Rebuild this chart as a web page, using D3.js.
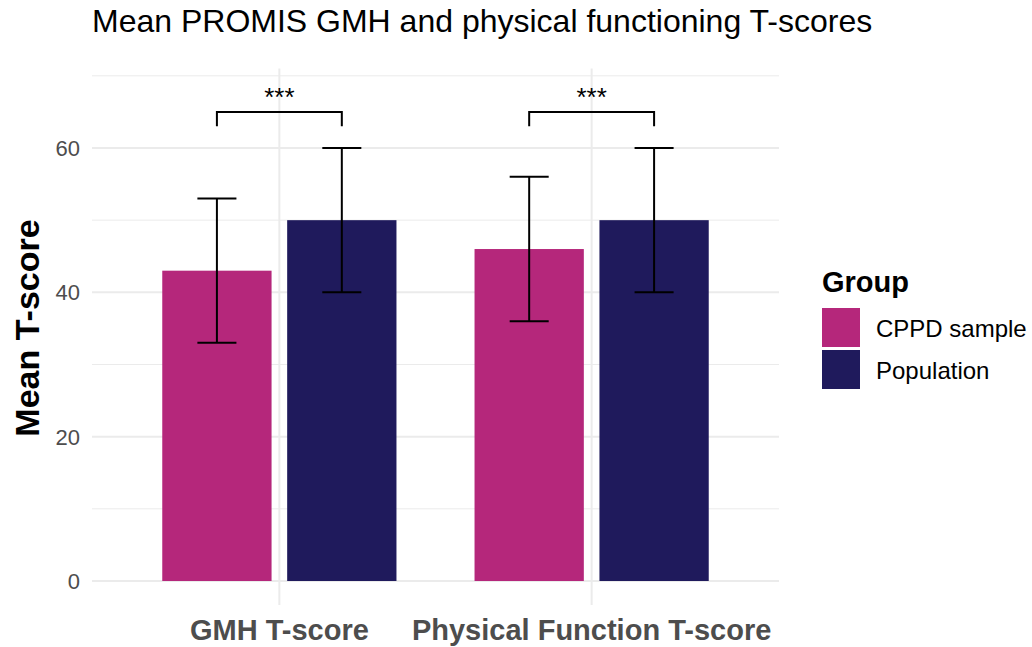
<!DOCTYPE html>
<html>
<head>
<meta charset="utf-8">
<script src="https://cdn.jsdelivr.net/npm/d3@7.9.0/dist/d3.min.js"></script>
<style>
  body { margin: 0; background: #fff; }
  text { font-family: "Liberation Sans", Arial, sans-serif; }
</style>
</head>
<body>
<svg id="chart" width="1032" height="647"></svg>
<script>
const measures = ['GMH T-score', 'Physical Function T-score'];
const groups = ['CPPD sample', 'Population'];
const colors = ['#B5277B', '#1F1A5C'];
const means = {
  'CPPD sample': [43, 46],
  'Population': [50, 50]
};
const sds = {
  'CPPD sample': [10, 10],
  'Population': [10, 10]
};
const yTicks = [0, 20, 40, 60];
const yMinor = [10, 30, 50, 70];
const sigLabels = ['***', '***'];
const bracketY = 65;
const bracketTip = 63;

const svg = d3.select('#chart');
const panel = { left: 92, right: 779, top: 60, bottom: 581 };

// continuous x so categories sit at 1 and 2, like ggplot
const x = d3.scaleLinear().domain([0.4, 2.6]).range([panel.left, panel.right]);
const y = d3.scaleLinear().domain([0, 60]).range([panel.bottom, 148]);

const dodge = 0.4, barW = 0.35, whisker = 0.0625;
const offset = (g) => (groups.indexOf(g) - 0.5) * dodge;

// grid
const grid = svg.append('g');
yMinor.forEach((t) => {
  grid.append('line').attr('x1', panel.left).attr('x2', panel.right)
    .attr('y1', y(t)).attr('y2', y(t)).attr('stroke', '#EBEBEB').attr('stroke-width', 1);
});
yTicks.forEach((t) => {
  grid.append('line').attr('x1', panel.left).attr('x2', panel.right)
    .attr('y1', y(t)).attr('y2', y(t)).attr('stroke', '#EBEBEB').attr('stroke-width', 2);
});
measures.forEach((m, i) => {
  grid.append('line').attr('x1', x(i + 1)).attr('x2', x(i + 1))
    .attr('y1', y(71)).attr('y2', panel.bottom + 24).attr('stroke', '#EBEBEB').attr('stroke-width', 2);
});

// bars
groups.forEach((g, gi) => {
  svg.append('g').selectAll('rect')
    .data(means[g])
    .join('rect')
    .attr('x', (d, i) => x(i + 1 + offset(g) - barW / 2))
    .attr('width', x(barW) - x(0))
    .attr('y', (d) => y(d))
    .attr('height', (d) => y(0) - y(d))
    .attr('fill', colors[gi]);
});

// error bars
groups.forEach((g) => {
  means[g].forEach((d, i) => {
    const cx = i + 1 + offset(g);
    const lo = d - sds[g][i], hi = d + sds[g][i];
    const eb = svg.append('g').attr('stroke', '#000').attr('stroke-width', 2);
    eb.append('line').attr('x1', x(cx)).attr('x2', x(cx)).attr('y1', y(lo)).attr('y2', y(hi));
    [lo, hi].forEach((v) => {
      eb.append('line').attr('x1', x(cx - whisker)).attr('x2', x(cx + whisker))
        .attr('y1', y(v)).attr('y2', y(v));
    });
  });
});

// significance brackets
measures.forEach((m, i) => {
  const x1 = x(i + 1 + offset(groups[0])), x2 = x(i + 1 + offset(groups[1]));
  svg.append('path')
    .attr('d', `M${x1},${y(bracketTip)}V${y(bracketY)}H${x2}V${y(bracketTip)}`)
    .attr('fill', 'none').attr('stroke', '#000').attr('stroke-width', 2);
  svg.append('text').attr('x', (x1 + x2) / 2).attr('y', y(bracketY) - 6)
    .attr('text-anchor', 'middle').attr('font-size', 26).text(sigLabels[i]);
});

// y axis labels
svg.append('g').selectAll('text').data(yTicks).join('text')
  .attr('x', 80).attr('y', (d) => y(d)).attr('dy', '0.36em')
  .attr('text-anchor', 'end').attr('font-size', 22).attr('fill', '#4D4D4D')
  .text((d) => d);

// x axis labels
svg.append('g').selectAll('text').data(measures).join('text')
  .attr('x', (d, i) => x(i + 1)).attr('y', 640)
  .attr('text-anchor', 'middle').attr('font-size', 29).attr('font-weight', 'bold')
  .attr('fill', '#4D4D4D').text((d) => d);

// y title
svg.append('text').attr('transform', `translate(39,328) rotate(-90)`)
  .attr('text-anchor', 'middle').attr('font-size', 34).attr('font-weight', 'bold')
  .text('Mean T-score');

// title
svg.append('text').attr('x', 92).attr('y', 32).attr('font-size', 32).text('Mean PROMIS GMH and physical functioning T-scores');

// legend
const legend = svg.append('g').attr('transform', 'translate(822,0)');
legend.append('text').attr('x', 0).attr('y', 292).attr('font-size', 29).attr('font-weight', 'bold').text('Group');
groups.forEach((g, gi) => {
  const top = 308 + gi * 42;
  legend.append('rect').attr('x', 0).attr('y', top).attr('width', 38).attr('height', 39).attr('fill', colors[gi]);
  legend.append('text').attr('x', 54).attr('y', top + 20).attr('dy', '0.36em')
    .attr('font-size', 24).text(g);
});
</script>
</body>
</html>
